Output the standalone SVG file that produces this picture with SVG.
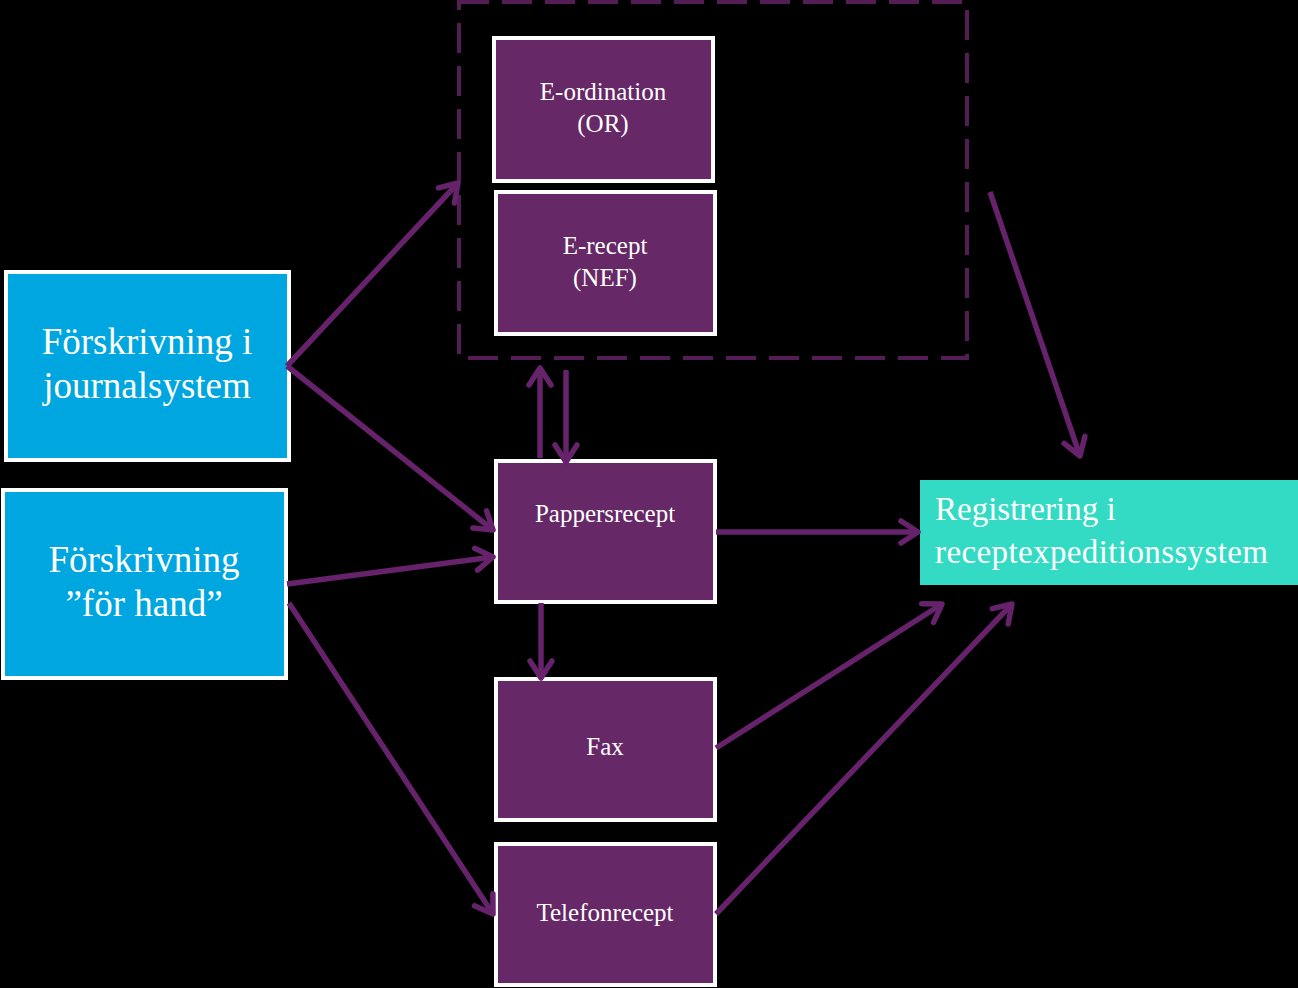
<svg xmlns="http://www.w3.org/2000/svg" width="1298" height="988" viewBox="0 0 1298 988">
<defs>
<style>
.p{fill:#662866;stroke:#fff;stroke-width:4}
.b{fill:#00a6e0;stroke:#fff;stroke-width:4}
.t{font-family:"Liberation Serif",serif;fill:#fff;text-anchor:middle}
.s{font-size:25px}
.l{font-size:37px}
.c{stroke:#66226a;stroke-width:5.5;fill:none;marker-end:url(#ah)}
</style>
<marker id="ah" markerUnits="userSpaceOnUse" markerWidth="30" markerHeight="30" viewBox="0 0 30 30" refX="25" refY="15" orient="auto">
<path d="M8,4 L25,15 L8,26" fill="none" stroke="#66226a" stroke-width="5.5" stroke-linecap="round" stroke-linejoin="round"/>
</marker>
</defs>
<rect width="1298" height="988" fill="#000"/>
<g id="group-e">
<rect x="459" y="2" width="508" height="356" fill="none" stroke="#551d55" stroke-width="4" stroke-dasharray="30 13"/>
</g>
<g id="e-ordination"><rect class="p" x="494" y="38" width="219" height="143"/>
<text class="t s" x="603" y="100">E-ordination</text><text class="t s" x="603" y="132">(OR)</text></g>
<g id="e-recept"><rect class="p" x="496" y="192" width="219" height="142"/>
<text class="t s" x="605" y="254">E-recept</text><text class="t s" x="605" y="286">(NEF)</text></g>
<g id="pappersrecept"><rect class="p" x="496" y="461" width="219" height="141"/>
<text class="t s" x="605" y="522">Pappersrecept</text></g>
<g id="fax"><rect class="p" x="496" y="679" width="219" height="141"/>
<text class="t s" x="605" y="755">Fax</text></g>
<g id="telefonrecept"><rect class="p" x="496" y="844" width="219" height="141"/>
<text class="t s" x="605" y="921">Telefonrecept</text></g>
<g id="journalsystem"><rect class="b" x="6" y="272" width="283" height="188"/>
<text class="t l" x="147" y="354">Förskrivning i</text><text class="t l" x="147" y="398">journalsystem</text></g>
<g id="for-hand"><rect class="b" x="3" y="490" width="283" height="188"/>
<text class="t l" x="144" y="572">Förskrivning</text><text class="t l" x="144" y="616">”för hand”</text></g>
<g id="registrering"><rect x="920" y="480" width="378" height="105" fill="#34dbc4"/>
<text font-family="Liberation Serif,serif" font-size="33" fill="#fff" x="935" y="520">Registrering i</text>
<text font-family="Liberation Serif,serif" font-size="33" fill="#fff" x="935" y="563" textLength="333">receptexpeditionssystem</text></g>
<g id="connectors">
<line class="c" x1="287" y1="366" x2="458" y2="183"/>
<line class="c" x1="287" y1="366" x2="493" y2="530"/>
<line class="c" x1="287" y1="584" x2="493" y2="557"/>
<line class="c" x1="289" y1="603" x2="493" y2="914"/>
<line class="c" x1="540" y1="458" x2="540" y2="368"/>
<line class="c" x1="566" y1="370" x2="566" y2="462"/>
<line class="c" x1="716" y1="532" x2="918" y2="532"/>
<line class="c" x1="541" y1="603" x2="541" y2="678"/>
<line class="c" x1="716" y1="748" x2="942" y2="604"/>
<line class="c" x1="716" y1="914" x2="1012" y2="604"/>
<line class="c" x1="990" y1="192" x2="1080" y2="456"/>
</g>
</svg>
